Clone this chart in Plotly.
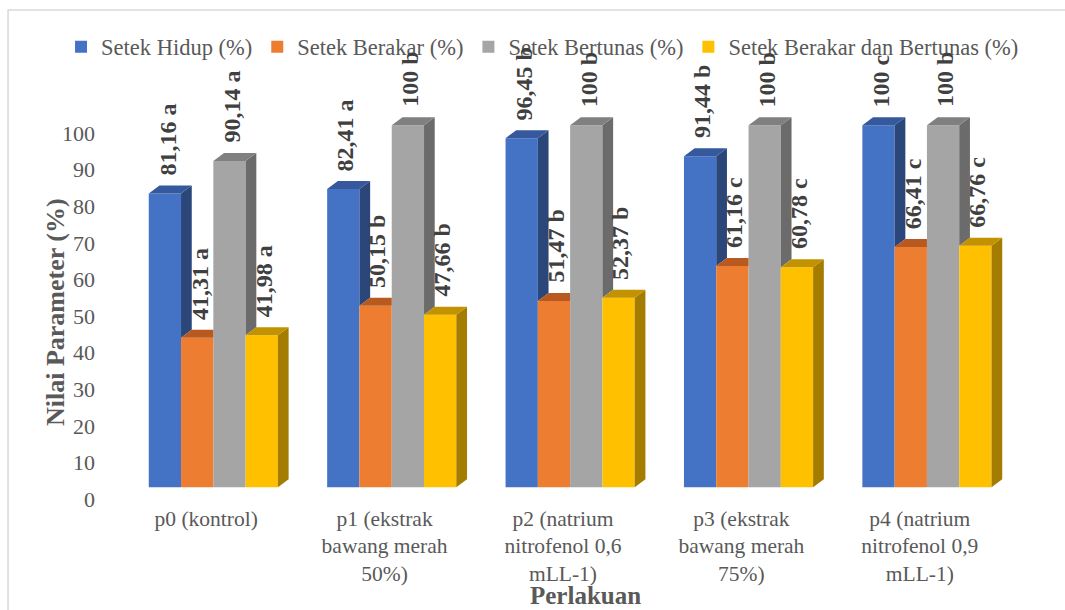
import plotly.graph_objects as go

# ---------------- data ----------------
categories = [
    "p0 (kontrol)",
    "p1 (ekstrak<br>bawang merah<br>50%)",
    "p2 (natrium<br>nitrofenol 0,6<br>mLL-1)",
    "p3 (ekstrak<br>bawang merah<br>75%)",
    "p4 (natrium<br>nitrofenol 0,9<br>mLL-1)",
]
series_names = [
    "Setek Hidup (%)",
    "Setek Berakar (%)",
    "Setek Bertunas (%)",
    "Setek Berakar dan Bertunas (%)",
]
setek_hidup = [81.16, 82.41, 96.45, 91.44, 100]
setek_berakar = [41.31, 50.15, 51.47, 61.16, 66.41]
setek_bertunas = [90.14, 100, 100, 100, 100]
setek_berakar_bertunas = [41.98, 47.66, 52.37, 60.78, 66.76]

notasi_hidup = ["a", "a", "b", "b", "c"]
notasi_berakar = ["a", "b", "b", "c", "c"]
notasi_bertunas = ["a", "b", "b", "b", "b"]
notasi_berakar_bertunas = ["a", "b", "b", "c", "c"]

y_ticks = [0, 10, 20, 30, 40, 50, 60, 70, 80, 90, 100]

# ---------------- style ----------------
front_colors = ["#4472C4", "#ED7D31", "#A5A5A5", "#FFC000"]
top_colors = ["#35599C", "#B8591F", "#808080", "#C29200"]
side_colors = ["#2B4679", "#A04E1B", "#6B6B6B", "#A47C00"]
FONT = "Liberation Serif, Times New Roman, serif"

W, H = 1065, 610
PL, PR, PT, PB = 117, 1009.5, 71, 503          # plot area in px
BASE_PX, PX_PER_UNIT = 487.3, 3.62              # bar scale
TICK0_PX, TICK_PX_PER_UNIT = 499, 3.66          # back-wall tick scale

def px2x(px):
    return (px - PL) / (PR - PL)

def py2y(py):
    return (PB - py) / (PB - PT)

bar_w = 0.181
shift = 0.04
dx = 0.06
dy = 8 / PX_PER_UNIT

all_vals = [setek_hidup, setek_berakar, setek_bertunas, setek_berakar_bertunas]
all_notes = [notasi_hidup, notasi_berakar, notasi_bertunas, notasi_berakar_bertunas]

fig = go.Figure()
annotations = []

def fmt(v):
    return f"{v:g}".replace(".", ",")

# front faces (real bars)
for j, (name, vals) in enumerate(zip(series_names, all_vals)):
    xs = [i + shift + (j - 1.5) * bar_w for i in range(len(categories))]
    fig.add_trace(go.Bar(
        x=xs, y=vals, width=bar_w, name=name,
        marker=dict(color=front_colors[j], line=dict(width=0)),
        hoverinfo="y",
    ))

# 3D side / top faces computed from the data
for j, vals in enumerate(all_vals):
    sx, sy, tx, ty = [], [], [], []
    for i, v in enumerate(vals):
        xl = i + shift + (j - 1.5) * bar_w - bar_w / 2
        xr = xl + bar_w
        nxt = all_vals[j + 1][i] if j < 3 else 0
        if v > nxt:
            sx += [xr, xr, xr + dx, xr + dx, xr, None]
            sy += [nxt, v, v + dy, nxt + dy, nxt, None]
            tx += [xl, xr, xr + dx, xl + dx, xl, None]
            ty += [v, v, v + dy, v + dy, v, None]
        else:
            tx += [xl, xr, xr, xl + dx, xl, None]
            ty += [v, v, v + dy, v + dy, v, None]
        annotations.append(dict(
            x=xl + bar_w / 2 + dx * 0.2, y=v, xref="x", yref="y",
            text="<b>%s %s</b>" % (fmt(v), all_notes[j][i]),
            textangle=-90, showarrow=False, xanchor="center", yanchor="bottom",
            yshift=16, font=dict(family=FONT, size=24, color="#404040"),
        ))
    fig.add_trace(go.Scatter(x=sx, y=sy, fill="toself", mode="none",
                             fillcolor=side_colors[j], showlegend=False, hoverinfo="skip"))
    fig.add_trace(go.Scatter(x=tx, y=ty, fill="toself", mode="none",
                             fillcolor=top_colors[j], showlegend=False, hoverinfo="skip"))

# invisible trace so the tick axis is drawn
fig.add_trace(go.Scatter(x=[None], y=[None], yaxis="y2", showlegend=False, hoverinfo="skip"))

annotations.append(dict(
    x=px2x(55), y=py2y(312), xref="paper", yref="paper", text="<b>Nilai Parameter (%)</b>",
    textangle=-90, showarrow=False, xanchor="center", yanchor="middle",
    font=dict(family=FONT, size=26, color="#595959"),
))
annotations.append(dict(
    x=px2x(586), y=py2y(595), xref="paper", yref="paper", text="<b>Perlakuan</b>",
    showarrow=False, xanchor="center", yanchor="middle",
    font=dict(family=FONT, size=25, color="#595959"),
))

fig.update_layout(
    width=W, height=H,
    margin=dict(l=PL, r=W - PR, t=PT, b=H - PB),
    paper_bgcolor="white", plot_bgcolor="white",
    barmode="overlay",
    font=dict(family=FONT, color="#595959"),
    xaxis=dict(
        range=[-0.5, 4.5], tickvals=list(range(len(categories))), ticktext=categories,
        showgrid=False, zeroline=False, showline=False, ticks="",
        tickfont=dict(family=FONT, size=21.5, color="#595959"),
    ),
    yaxis=dict(
        range=[-(PB - BASE_PX) / PX_PER_UNIT, (BASE_PX - PT) / PX_PER_UNIT],
        showgrid=False, zeroline=False, showline=False, showticklabels=False, ticks="",
    ),
    yaxis2=dict(
        overlaying="y", side="left", anchor="x",
        range=[-(PB - TICK0_PX) / TICK_PX_PER_UNIT, (TICK0_PX - PT) / TICK_PX_PER_UNIT],
        tickvals=y_ticks, showgrid=False, zeroline=False, showline=False, ticks="",
        tickfont=dict(family=FONT, size=22, color="#595959"),
        ticklabelstandoff=21,
    ),
    legend=dict(
        orientation="h", x=px2x(61), xanchor="left", y=py2y(47), yanchor="middle",
        font=dict(family=FONT, size=22.5, color="#595959"),
        itemwidth=30, bgcolor="rgba(0,0,0,0)",
    ),
    annotations=annotations,
    shapes=[dict(
        type="rect", xref="paper", yref="paper",
        x0=px2x(8), x1=px2x(1075), y0=py2y(620), y1=py2y(10),
        line=dict(color="#D9D9D9", width=1.5), fillcolor="rgba(0,0,0,0)", layer="below",
    )],
    showlegend=True,
)

fig.write_html("out.html")
